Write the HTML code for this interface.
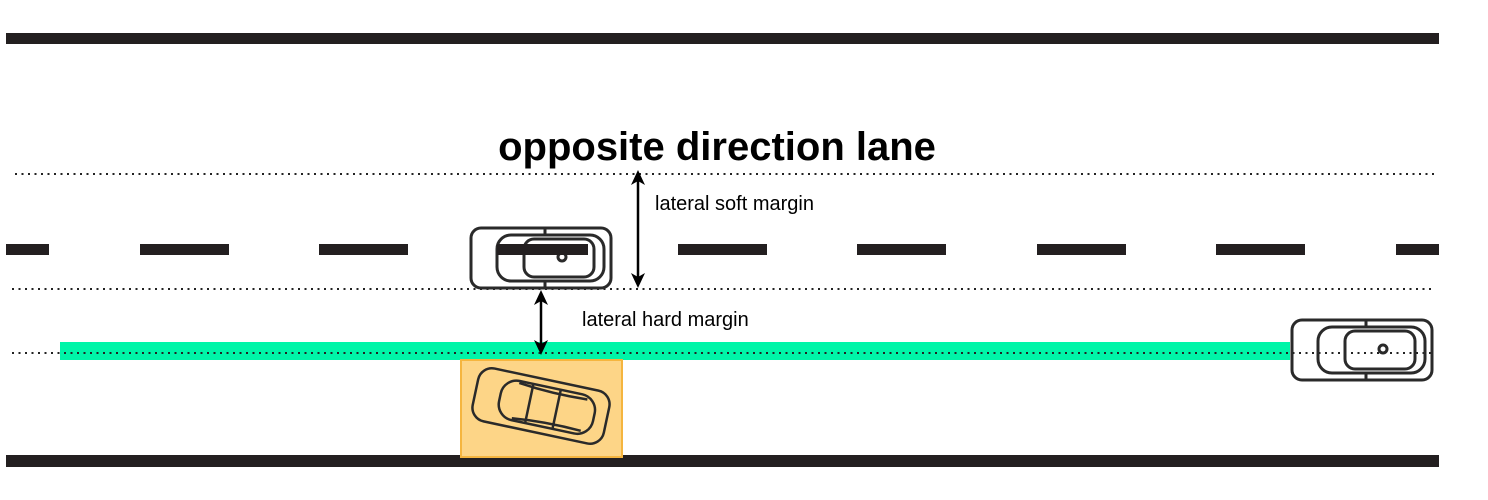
<!DOCTYPE html>
<html><head><meta charset="utf-8"><style>
html,body{margin:0;padding:0;background:#fff;}
svg{display:block;font-family:"Liberation Sans",sans-serif;}
</style></head><body>
<svg width="1488" height="500" viewBox="0 0 1488 500">
<rect x="6" y="33" width="1433" height="11" fill="#231f20"/>
<rect x="6" y="455" width="1433" height="12" fill="#231f20"/>
<g fill="#231f20">
<rect x="6" y="244" width="43" height="11"/>
<rect x="140" y="244" width="89" height="11"/>
<rect x="319" y="244" width="89" height="11"/>
<rect x="678" y="244" width="89" height="11"/>
<rect x="857" y="244" width="89" height="11"/>
<rect x="1037" y="244" width="89" height="11"/>
<rect x="1216" y="244" width="89" height="11"/>
<rect x="1396" y="244" width="43" height="11"/>
</g>
<rect x="60" y="342" width="1230" height="18" fill="#00f5a8"/>
<g stroke="#222" stroke-width="2" stroke-dasharray="2 4.5" fill="none">
<line x1="15" y1="174" x2="1435" y2="174"/>
<line x1="12" y1="289" x2="1432" y2="289"/>
<line x1="12" y1="353" x2="1432" y2="353"/>
</g>
<rect x="461" y="360" width="161" height="97" fill="#fdd587" stroke="#f5b53f" stroke-width="2"/>
<g fill="none" stroke="#2a2a2a" stroke-width="3">
<rect x="471" y="228" width="140" height="60" rx="10"/>
<rect x="497" y="235" width="107" height="46" rx="14"/>
<rect x="524" y="239" width="70" height="38" rx="10"/>
<line x1="545" y1="228" x2="545" y2="235"/><line x1="545" y1="281" x2="545" y2="288"/>
<circle cx="562" cy="257" r="4"/>
</g>
<rect x="497" y="244" width="91" height="11" fill="#231f20"/>
<g fill="none" stroke="#2a2a2a" stroke-width="3">
<rect x="1292" y="320" width="140" height="60" rx="10"/>
<rect x="1318" y="327" width="107" height="46" rx="14"/>
<rect x="1345" y="331" width="70" height="38" rx="10"/>
<line x1="1366" y1="320" x2="1366" y2="327"/><line x1="1366" y1="373" x2="1366" y2="380"/>
<circle cx="1383" cy="349" r="4"/>
</g>
<g transform="translate(541,406) rotate(12)" fill="none" stroke="#2a2a2a" stroke-width="2.5">
<rect x="-67" y="-27" width="134" height="54" rx="14"/>
<rect x="-42" y="-20" width="96" height="40" rx="16"/>
<line x1="-12" y1="-19" x2="-12" y2="19"/><line x1="16" y1="-19" x2="16" y2="19"/>
<path d="M-26,-18 Q8,-14 44,-16 M-26,18 Q8,14 44,16"/>
</g>
<g stroke="#000" stroke-width="2.5">
<line x1="638" y1="180" x2="638" y2="278"/>
<line x1="541" y1="300" x2="541" y2="345"/>
</g>
<g fill="#000">
<path d="M638,170 L645,185 L638,181 L631,185 Z"/>
<path d="M638,288 L645,273 L638,277 L631,273 Z"/>
<path d="M541,290 L548,305 L541,301 L534,305 Z"/>
<path d="M541,355 L548,340 L541,344 L534,340 Z"/>
</g>
<text x="717" y="160" font-size="40" font-weight="bold" text-anchor="middle" fill="#000">opposite direction lane</text>
<text x="655" y="210" font-size="20" fill="#000">lateral soft margin</text>
<text x="582" y="326" font-size="20" fill="#000">lateral hard margin</text>
</svg>
</body></html>
